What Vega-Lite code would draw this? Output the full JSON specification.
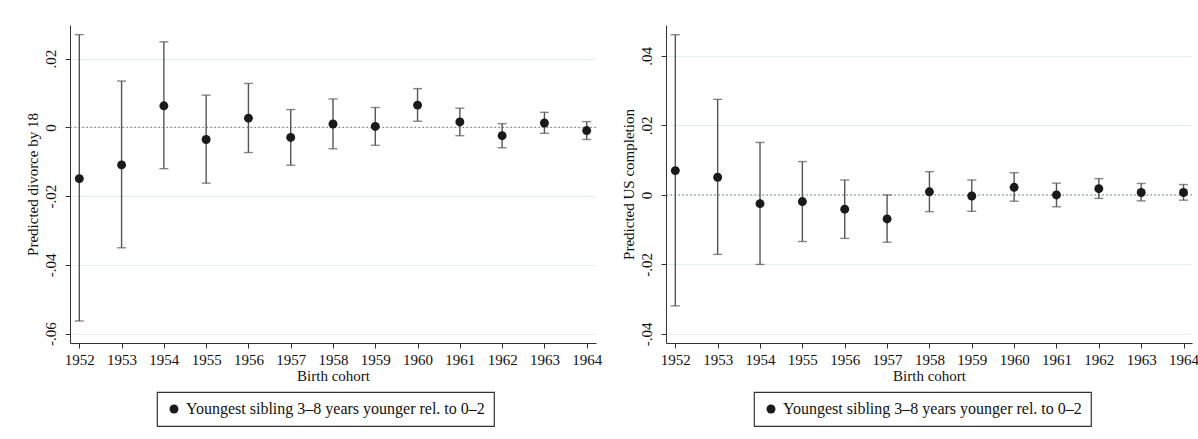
{
  "$schema": "https://vega.github.io/schema/vega-lite/v6.json",
  "background": "white",
  "padding": {"top": 25, "left": 25, "right": 0, "bottom": 0},
  "datasets": {
    "divorce": [
      {"cohort": 1952, "est": -0.0149, "lo": -0.0563, "hi": 0.0270},
      {"cohort": 1953, "est": -0.0109, "lo": -0.0350, "hi": 0.0135},
      {"cohort": 1954, "est": 0.0063, "lo": -0.0120, "hi": 0.0249},
      {"cohort": 1955, "est": -0.0035, "lo": -0.0162, "hi": 0.0094},
      {"cohort": 1956, "est": 0.0027, "lo": -0.0073, "hi": 0.0128},
      {"cohort": 1957, "est": -0.0029, "lo": -0.0110, "hi": 0.0052},
      {"cohort": 1958, "est": 0.0010, "lo": -0.0062, "hi": 0.0083},
      {"cohort": 1959, "est": 0.0003, "lo": -0.0052, "hi": 0.0058},
      {"cohort": 1960, "est": 0.0065, "lo": 0.0018, "hi": 0.0113},
      {"cohort": 1961, "est": 0.0016, "lo": -0.0024, "hi": 0.0056},
      {"cohort": 1962, "est": -0.0024, "lo": -0.0059, "hi": 0.0011},
      {"cohort": 1963, "est": 0.0013, "lo": -0.0017, "hi": 0.0044},
      {"cohort": 1964, "est": -0.0009, "lo": -0.0035, "hi": 0.0017}
    ],
    "us": [
      {"cohort": 1952, "est": 0.0070, "lo": -0.0319, "hi": 0.0461},
      {"cohort": 1953, "est": 0.0051, "lo": -0.0171, "hi": 0.0275},
      {"cohort": 1954, "est": -0.0025, "lo": -0.0200, "hi": 0.0151},
      {"cohort": 1955, "est": -0.0019, "lo": -0.0134, "hi": 0.0096},
      {"cohort": 1956, "est": -0.0041, "lo": -0.0125, "hi": 0.0043},
      {"cohort": 1957, "est": -0.0069, "lo": -0.0136, "hi": 0.0000},
      {"cohort": 1958, "est": 0.0009, "lo": -0.0048, "hi": 0.0067},
      {"cohort": 1959, "est": -0.0003, "lo": -0.0047, "hi": 0.0043},
      {"cohort": 1960, "est": 0.0022, "lo": -0.0018, "hi": 0.0064},
      {"cohort": 1961, "est": 0.0000, "lo": -0.0034, "hi": 0.0034},
      {"cohort": 1962, "est": 0.0018, "lo": -0.0010, "hi": 0.0047},
      {"cohort": 1963, "est": 0.0007, "lo": -0.0017, "hi": 0.0033},
      {"cohort": 1964, "est": 0.0007, "lo": -0.0015, "hi": 0.0030}
    ]
  },
  "spacing": 19,
  "resolve": {"scale": {"color": "independent"}, "legend": {"color": "independent"}},
  "hconcat": [
    {
      "width": 526,
      "height": 318,
      "data": {"name": "divorce"},
      "encoding": {
        "x": {
          "field": "cohort", "type": "quantitative",
          "scale": {"domain": [1951.78, 1964.22], "nice": false, "zero": false},
          "axis": {"title": "Birth cohort", "values": [1952, 1953, 1954, 1955, 1956, 1957, 1958, 1959, 1960, 1961, 1962, 1963, 1964], "format": "d", "grid": false, "labelFlush": false, "labelPadding": 4, "titlePadding": 1}
        },
        "y": {
          "type": "quantitative",
          "scale": {"domain": [-0.0627, 0.0298], "nice": false, "zero": false},
          "axis": {
            "title": "Predicted divorce by 18",
            "values": [-0.06, -0.04, -0.02, 0, 0.02],
            "labelExpr": "datum.value == 0 ? '0' : (datum.value < 0 ? '-' : '') + replace(format(abs(datum.value), '.2f'), '0.', '.')",
            "grid": true, "labelAngle": 270, "labelAlign": "center", "labelBaseline": "bottom", "labelPadding": 7, "titlePadding": 3
          }
        }
      },
      "layer": [
        {
          "data": {"values": [{}]},
          "mark": {"type": "rule", "color": "#8c8c8c", "strokeDash": [1.5, 2.5], "strokeWidth": 1.2},
          "encoding": {"y": {"datum": 0}, "x": null}
        },
        {
          "data": {"values": [{}]},
          "mark": {"type": "rule", "color": "#dc3a6b", "strokeDash": [7, 4], "strokeWidth": 1.6},
          "encoding": {"x": {"datum": 1955.5}, "y": null}
        },
        {
          "mark": {"type": "rule", "color": "#555555", "strokeWidth": 1.4},
          "encoding": {"y": {"field": "lo"}, "y2": {"field": "hi"}}
        },
        {
          "mark": {"type": "tick", "orient": "horizontal", "size": 9, "thickness": 1.4, "color": "#555555"},
          "encoding": {"y": {"field": "lo"}}
        },
        {
          "mark": {"type": "tick", "orient": "horizontal", "size": 9, "thickness": 1.4, "color": "#555555"},
          "encoding": {"y": {"field": "hi"}}
        },
        {
          "mark": {"type": "circle", "size": 80, "opacity": 1},
          "encoding": {
            "y": {"field": "est"},
            "color": {"datum": "Youngest sibling 3–8 years younger rel. to 0–2", "scale": {"range": ["#1a1a1a"]}, "legend": {"legendX": 87, "legendY": 367, "labelExpr": "datum.label + '\u00a0\u00a0\u00a0\u00a0\u00a0\u00a0\u00a0\u00a0\u00a0\u00a0'"}}
          }
        }
      ]
    },
    {
      "width": 526,
      "height": 318,
      "data": {"name": "us"},
      "encoding": {
        "x": {
          "field": "cohort", "type": "quantitative",
          "scale": {"domain": [1951.78, 1964.2], "nice": false, "zero": false},
          "axis": {"title": "Birth cohort", "values": [1952, 1953, 1954, 1955, 1956, 1957, 1958, 1959, 1960, 1961, 1962, 1963, 1964], "format": "d", "grid": false, "labelFlush": false, "labelPadding": 4, "titlePadding": 1}
        },
        "y": {
          "type": "quantitative",
          "scale": {"domain": [-0.0426, 0.0489], "nice": false, "zero": false},
          "axis": {
            "title": "Predicted US completion",
            "values": [-0.04, -0.02, 0, 0.02, 0.04],
            "labelExpr": "datum.value == 0 ? '0' : (datum.value < 0 ? '-' : '') + replace(format(abs(datum.value), '.2f'), '0.', '.')",
            "grid": true, "labelAngle": 270, "labelAlign": "center", "labelBaseline": "bottom", "labelPadding": 7, "titlePadding": 3
          }
        }
      },
      "layer": [
        {
          "data": {"values": [{}]},
          "mark": {"type": "rule", "color": "#8c8c8c", "strokeDash": [1.5, 2.5], "strokeWidth": 1.2},
          "encoding": {"y": {"datum": 0}, "x": null}
        },
        {
          "data": {"values": [{}]},
          "mark": {"type": "rule", "color": "#dc3a6b", "strokeDash": [7, 4], "strokeWidth": 1.6},
          "encoding": {"x": {"datum": 1955.5}, "y": null}
        },
        {
          "mark": {"type": "rule", "color": "#555555", "strokeWidth": 1.4},
          "encoding": {"y": {"field": "lo"}, "y2": {"field": "hi"}}
        },
        {
          "mark": {"type": "tick", "orient": "horizontal", "size": 9, "thickness": 1.4, "color": "#555555"},
          "encoding": {"y": {"field": "lo"}}
        },
        {
          "mark": {"type": "tick", "orient": "horizontal", "size": 9, "thickness": 1.4, "color": "#555555"},
          "encoding": {"y": {"field": "hi"}}
        },
        {
          "mark": {"type": "circle", "size": 80, "opacity": 1},
          "encoding": {
            "y": {"field": "est"},
            "color": {"datum": "Youngest sibling 3–8 years younger rel. to 0–2", "scale": {"range": ["#1a1a1a"]}, "legend": {"legendX": 88, "legendY": 367, "labelExpr": "datum.label + '\u00a0\u00a0\u00a0\u00a0\u00a0\u00a0\u00a0\u00a0\u00a0\u00a0'"}}
          }
        }
      ]
    }
  ],
  "config": {
    "view": {"stroke": null},
    "font": "Liberation Serif",
    "axis": {
      "labelFont": "Liberation Serif", "titleFont": "Liberation Serif",
      "labelFontSize": 15, "titleFontSize": 15, "titleFontWeight": "normal",
      "labelColor": "#111111", "titleColor": "#111111",
      "domainColor": "#333333", "tickColor": "#333333", "tickSize": 5,
      "gridColor": "#e6efef", "gridWidth": 1
    },
    "legend": {
      "orient": "none", "title": null,
      "strokeColor": "#333333", "strokeWidth": 1.2, "fillColor": "white", "padding": 9,
      "labelFont": "Liberation Serif", "labelFontSize": 16, "labelColor": "#111111", "labelLimit": 0,
      "symbolType": "circle", "symbolSize": 80, "symbolStrokeWidth": 0, "symbolFillColor": "#1a1a1a"
    }
  }
}
